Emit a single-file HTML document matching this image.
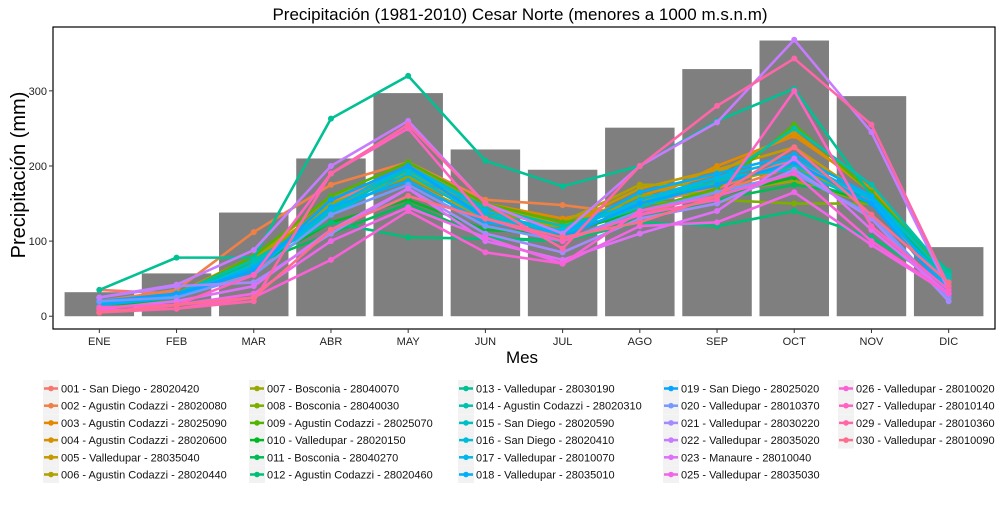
<!DOCTYPE html>
<html><head><meta charset="utf-8"><style>
body{margin:0;background:#fff;width:1000px;height:500px;overflow:hidden;font-family:"Liberation Sans",sans-serif}
</style></head><body>
<svg id="chart" width="1000" height="500" xmlns="http://www.w3.org/2000/svg" font-family="Liberation Sans, sans-serif">
<text x="520" y="20" font-size="17" text-anchor="middle" fill="#000">Precipitación (1981-2010) Cesar Norte (menores a 1000 m.s.n.m)</text>
<text transform="translate(25,175) rotate(-90)" font-size="20" text-anchor="middle" fill="#000">Precipitación (mm)</text>
<text x="522" y="363" font-size="17" text-anchor="middle" fill="#000">Mes</text>
<g id="bars"></g>
<g id="lines"></g>
<g id="axes"></g>
<g id="legend"></g>
</svg>
<script>
const months=["ENE","FEB","MAR","ABR","MAY","JUN","JUL","AGO","SEP","OCT","NOV","DIC"];
const barValues=[32,57,138,210,297,222,195,251,329,367,293,92];
const yTicks=[0,100,200,300];
const seriesNames=["001 - San Diego - 28020420","002 - Agustin Codazzi - 28020080","003 - Agustin Codazzi - 28025090","004 - Agustin Codazzi - 28020600","005 - Valledupar - 28035040","006 - Agustin Codazzi - 28020440","007 - Bosconia - 28040070","008 - Bosconia - 28040030","009 - Agustin Codazzi - 28025070","010 - Valledupar - 28020150","011 - Bosconia - 28040270","012 - Agustin Codazzi - 28020460","013 - Valledupar - 28030190","014 - Agustin Codazzi - 28020310","015 - San Diego - 28020590","016 - San Diego - 28020410","017 - Valledupar - 28010070","018 - Valledupar - 28035010","019 - San Diego - 28025020","020 - Valledupar - 28010370","021 - Valledupar - 28030220","022 - Valledupar - 28035020","023 - Manaure - 28010040","025 - Valledupar - 28035030","026 - Valledupar - 28010020","027 - Valledupar - 28010140","029 - Valledupar - 28010360","030 - Valledupar - 28010090"];
const s001=[35,30,55,150,200,150,120,150,170,210,150,40];
const s002=[20,35,112,175,205,155,148,135,165,200,160,45];
const s003=[10,30,80,140,200,150,130,150,200,240,170,50];
const s004=[12,28,75,150,185,140,120,160,190,245,165,55];
const s005=[15,25,70,145,180,130,120,170,195,225,155,50];
const s006=[12,30,75,160,190,145,125,175,175,200,150,45];
const s007=[14,28,70,150,185,135,115,160,165,180,150,48];
const s008=[10,25,65,155,200,140,120,150,155,150,150,45];
const s009=[15,28,80,160,205,150,125,140,170,255,165,55];
const s010=[12,25,65,125,155,115,110,140,160,185,150,50];
const s011=[15,30,70,110,150,105,100,130,155,175,160,45];
const s012=[20,28,75,125,105,103,100,125,120,140,105,40];
const s013=[35,78,78,263,320,207,173,200,260,303,160,60];
const s014=[18,30,75,135,200,145,120,150,180,250,175,55];
const s015=[15,25,70,140,195,135,110,145,180,200,160,50];
const s016=[20,30,65,135,190,130,115,150,185,195,150,45];
const s017=[18,28,60,145,200,140,110,155,185,210,155,40];
const s018=[15,25,65,145,180,125,110,165,190,215,160,35];
const s019=[20,30,60,155,200,130,105,150,175,205,150,30];
const s020=[20,25,55,135,175,120,100,140,165,190,135,25];
const s021=[25,40,45,110,170,110,85,130,150,195,130,20];
const s022=[25,42,88,200,260,150,110,200,258,368,245,35];
const s023=[10,20,40,115,170,100,75,110,140,210,115,30];
const s025=[5,15,30,100,145,105,70,120,125,165,95,30];
const s026=[8,10,25,75,140,85,70,140,160,190,100,30];
const s027=[12,15,55,190,250,130,100,135,155,300,120,35];
const s029=[5,10,20,190,255,150,90,200,280,343,255,40];
const s030=[5,15,25,115,160,130,105,125,160,225,135,45];
const seriesValues=[s001,s002,s003,s004,s005,s006,s007,s008,s009,s010,s011,s012,s013,s014,s015,s016,s017,s018,s019,s020,s021,s022,s023,s025,s026,s027,s029,s030];

const NS="http://www.w3.org/2000/svg";
const PL=53,PR=995,PT=27,PB=329;
const yMin=-17,yMax=385;
const band=(PR-PL)/(months.length-1+1.2);
function xS(i){return PL+band*(i+0.6);}
function yS(v){return PB-(v-yMin)/(yMax-yMin)*(PB-PT);}
function mk(tag,attrs,parent){const e=document.createElementNS(NS,tag);for(const k in attrs)e.setAttribute(k,attrs[k]);parent.appendChild(e);return e;}
function hcl(h){const L=65,C=100;const hr=h*Math.PI/180;const u=C*Math.cos(hr),v=C*Math.sin(hr);
 const Xn=95.047,Yn=100,Zn=108.883;const un=4*Xn/(Xn+15*Yn+3*Zn),vn=9*Yn/(Xn+15*Yn+3*Zn);
 const Y=Yn*Math.pow((L+16)/116,3);const up=u/(13*L)+un,vp=v/(13*L)+vn;
 const X=Y*9*up/(4*vp);const Z=Y*(12-3*up-20*vp)/(4*vp);
 const x=X/100,y=Y/100,z=Z/100;
 let r=3.2406*x-1.5372*y-0.4986*z,g=-0.9689*x+1.8758*y+0.0415*z,b=0.0557*x-0.2040*y+1.0570*z;
 const f=c=>{c=c<=0.0031308?12.92*c:1.055*Math.pow(c,1/2.4)-0.055;return Math.round(Math.max(0,Math.min(1,c))*255);};
 return `rgb(${f(r)},${f(g)},${f(b)})`;}
const n=seriesValues.length;
const colors=seriesValues.map((_,i)=>hcl(15+i*360/n));

const bars=document.getElementById('bars');
barValues.forEach((v,i)=>{
 const r=mk('rect',{x:xS(i)-band*0.45,y:yS(v),width:band*0.9,height:yS(0)-yS(v),fill:'#7f7f7f'},bars);
 
 
});
const lines=document.getElementById('lines');
seriesValues.forEach((vals,si)=>{
 const g=mk('g',{},lines);
 
 
 mk('polyline',{points:vals.map((v,i)=>xS(i)+','+yS(v)).join(' '),fill:'none',stroke:colors[si],'stroke-width':2.6,'stroke-linejoin':'round'},g);
 vals.forEach((v,i)=>{mk('circle',{cx:xS(i),cy:yS(v),r:3,fill:colors[si]},g);});
});
const axes=document.getElementById('axes');
const frame=mk('rect',{x:PL,y:PT,width:PR-PL,height:PB-PT,fill:'none',stroke:'#000','stroke-width':1.2},axes);


yTicks.forEach(t=>{
 mk('line',{x1:PL-4,x2:PL,y1:yS(t),y2:yS(t),stroke:'#333'},axes);
 const tx=mk('text',{x:PL-6,y:yS(t)+4,'font-size':11,'text-anchor':'end',fill:'#222'},axes);
 tx.textContent=t;
 
 
});
months.forEach((m,i)=>{
 mk('line',{x1:xS(i),x2:xS(i),y1:PB,y2:PB+4,stroke:'#333'},axes);
 const tx=mk('text',{x:xS(i),y:PB+16,'font-size':11,'text-anchor':'middle',fill:'#222'},axes);
 tx.textContent=m;
 
 
});
const legend=document.getElementById('legend');
const colX=[43,249,458,663,838];
const rowsPer=[6,6,6,6,4];
let idx=0;
colX.forEach((cx,c)=>{for(let r=0;r<rowsPer[c];r++){
 const si=idx++;const y=380+r*17.2;
 const g=mk('g',{},legend);
 
 
 mk('rect',{x:cx,y:y,width:16,height:17,fill:'#f2f2f2'},g);
 mk('line',{x1:cx+1,x2:cx+15,y1:y+8.5,y2:y+8.5,stroke:colors[si],'stroke-width':2.5},g);
 mk('circle',{cx:cx+8,cy:y+8.5,r:2.8,fill:colors[si]},g);
 const tx=mk('text',{x:cx+18,y:y+12.5,'font-size':11,fill:'#111'},g);
 tx.textContent=seriesNames[si];
}});
</script>
</body></html>
